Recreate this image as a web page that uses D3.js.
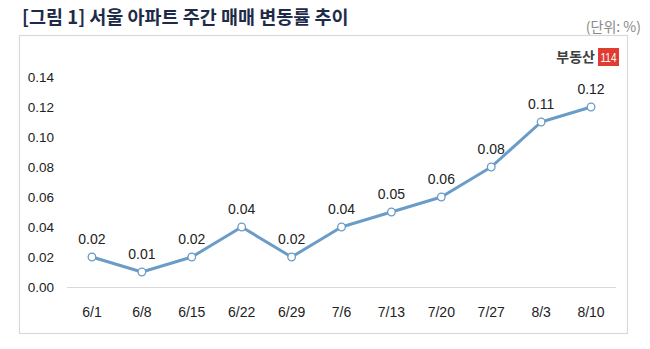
<!DOCTYPE html>
<html><head><meta charset="utf-8">
<script src="https://cdn.jsdelivr.net/npm/d3@7"></script>
<style>
body{margin:0;background:#fff;}
svg{display:block;}
</style></head>
<body><svg id="c" width="650" height="349"></svg>
<script>
const categories = ["6/1","6/8","6/15","6/22","6/29","7/6","7/13","7/20","7/27","8/3","8/10"];
const values = [0.02,0.01,0.02,0.04,0.02,0.04,0.05,0.06,0.08,0.11,0.12];
const yTicks = [0,0.02,0.04,0.06,0.08,0.10,0.12,0.14];
const title = "[그림 1] 서울 아파트 주간 매매 변동률 추이";
const unit = "(단위: %)";

const svg = d3.select("#c");
const fontNum = "'Liberation Sans', Arial, sans-serif";
const fontKr = "'Noto Sans CJK KR', sans-serif";

// title
svg.append("text").attr("x",22).attr("y",24).text(title)
  .attr("font-family",fontKr).attr("font-weight","bold").attr("font-size",18.5)
  .attr("fill","#1e2b48");
svg.append("text").attr("x",641).attr("y",32).attr("text-anchor","end").text(unit)
  .attr("font-family",fontKr).attr("font-size",14).attr("fill","#8a8a8a");

// frame
svg.append("rect").attr("x",19.5).attr("y",35.5).attr("width",608).attr("height",298)
  .attr("fill","none").attr("stroke","#d9d9d9").attr("stroke-width",1.2);

// logo
svg.append("text").attr("x",595).attr("y",62).attr("text-anchor","end").text("부동산")
  .attr("font-family",fontKr).attr("font-weight","bold").attr("font-size",14).attr("fill","#3f3f3f");
svg.append("rect").attr("x",598).attr("y",48).attr("width",21).attr("height",18).attr("fill","#e03c31");
svg.append("text").attr("x",608.5).attr("y",62).attr("text-anchor","middle").text("114")
  .attr("font-family",fontNum).attr("font-size",12).attr("fill","#fff")
  .attr("textLength",16).attr("lengthAdjust","spacingAndGlyphs");

const x = d3.scaleBand().domain(categories).range([67,616]);
const y = d3.scaleLinear().domain([0,0.14]).range([287,77]);

// y tick labels
svg.append("g").selectAll("text").data(yTicks).join("text")
  .attr("x",54).attr("y",d=>y(d)).attr("dy","0.35em").attr("text-anchor","end")
  .attr("font-family",fontNum).attr("font-size",13.5).attr("fill","#222")
  .text(d=>d3.format(".2f")(d));

// x axis line
svg.append("line").attr("x1",67).attr("x2",616).attr("y1",287.5).attr("y2",287.5)
  .attr("stroke","#d9d9d9").attr("stroke-width",1.2);

// x labels
svg.append("g").selectAll("text").data(categories).join("text")
  .attr("x",d=>x(d)+x.bandwidth()/2).attr("y",312).attr("dy","0.35em").attr("text-anchor","middle")
  .attr("font-family",fontNum).attr("font-size",14).attr("fill","#222").text(d=>d);

const cx = (d,i)=>x(categories[i])+x.bandwidth()/2;
const line = d3.line().x((d,i)=>cx(d,i)).y(d=>y(d));
svg.append("path").datum(values).attr("d",line).attr("fill","none")
  .attr("stroke","#6b9bc7").attr("stroke-width",3).attr("stroke-linejoin","round");

svg.append("g").selectAll("circle").data(values).join("circle")
  .attr("cx",cx).attr("cy",d=>y(d)).attr("r",3.8)
  .attr("fill","#fff").attr("stroke","#6b9bc7").attr("stroke-width",1.3);

svg.append("g").selectAll("text").data(values).join("text")
  .attr("x",cx).attr("y",d=>y(d)-18).attr("dy","0.35em").attr("text-anchor","middle")
  .attr("font-family",fontNum).attr("font-size",14).attr("fill","#222")
  .text(d=>d3.format(".2f")(d));
</script></body></html>
